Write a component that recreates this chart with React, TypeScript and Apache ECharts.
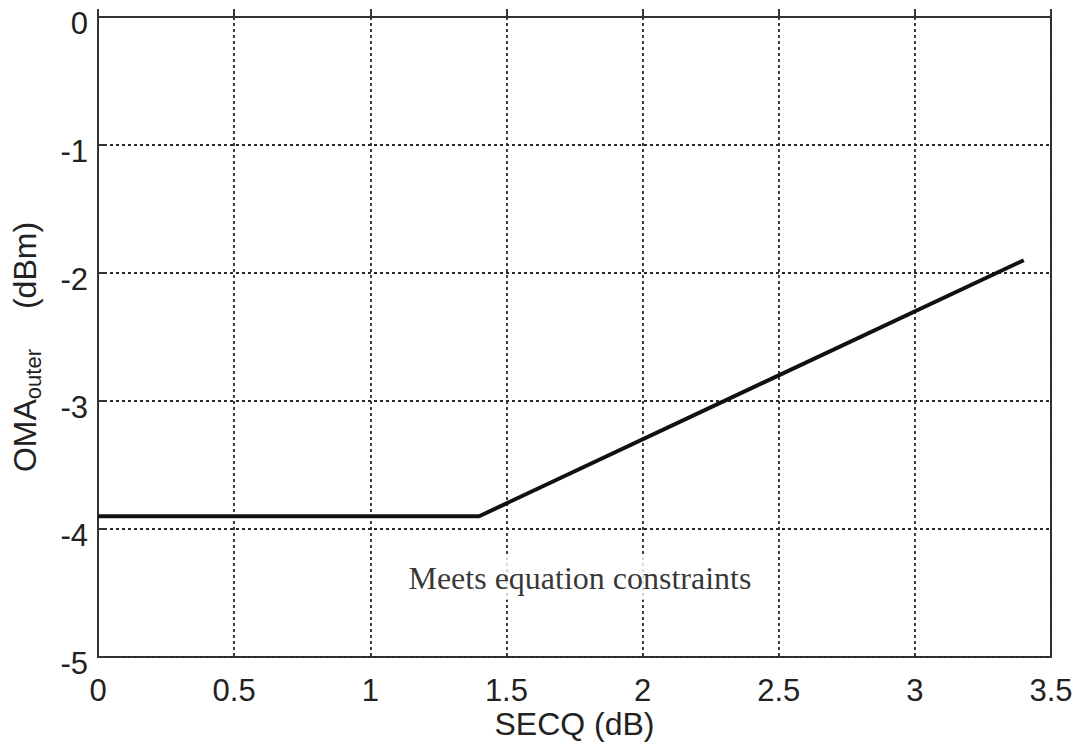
import React, { useEffect, useRef } from "react";
import * as echarts from "echarts";

const secq: number[] = [0, 1.4, 3.4];
const omaOuter: number[] = [-3.9, -3.9, -1.9];
const xTicks = { min: 0, max: 3.5, interval: 0.5 };
const yTicks = { min: -5, max: 0, interval: 1 };
const annotationText = "Meets equation constraints";
const annotationX: number[] = [1.77];
const annotationY: number[] = [-4.38];

export default function App() {
  const ref = useRef<HTMLDivElement>(null);
  useEffect(() => {
    document.body.style.margin = "0";
    const chart = echarts.init(ref.current!, null, { renderer: "svg" });
    const sans = "Liberation Sans, Arial, sans-serif";
    const serif = "Liberation Serif, Times New Roman, serif";
    const grid = { color: "#2a2a2a", type: [3, 3], width: 1.8 };
    chart.setOption({
      animation: false,
      backgroundColor: "#ffffff",
      grid: {
        left: 98,
        right: 26,
        top: 17,
        bottom: 88,
        show: true,
        borderColor: "#333",
        borderWidth: 2,
      },
      xAxis: {
        type: "value",
        min: xTicks.min,
        max: xTicks.max,
        interval: xTicks.interval,
        name: "SECQ (dB)",
        nameLocation: "middle",
        nameGap: 51,
        nameMoveOverlap: false,
        nameTextStyle: { fontFamily: sans, fontSize: 32, color: "#222", verticalAlign: "top" },
        axisLine: { show: true, lineStyle: { color: "#333", width: 2 } },
        axisTick: { show: true, inside: true, length: 8, lineStyle: { color: "#333", width: 2 } },
        axisLabel: {
          fontFamily: sans,
          fontSize: 31,
          color: "#222",
          margin: 18,
          formatter: (v: number) => String(v),
        },
        splitLine: { show: true, lineStyle: grid },
      },
      yAxis: {
        type: "value",
        min: yTicks.min,
        max: yTicks.max,
        interval: yTicks.interval,
        name: "{a|OMA}{s|outer}{g|}{e|(dBm)}",
        nameLocation: "middle",
        nameGap: 54,
        nameMoveOverlap: false,
        nameTextStyle: {
          fontFamily: sans,
          color: "#222",
          rich: {
            a: { fontFamily: sans, fontSize: 32, color: "#222" },
            e: { fontFamily: sans, fontSize: 32, color: "#222", padding: [0, 20, 0, 0] },
            s: { fontFamily: sans, fontSize: 22, color: "#222", padding: [16, 0, 0, 0] },
            g: { width: 40 },
          },
        },
        axisLine: { show: true, lineStyle: { color: "#333", width: 2 } },
        axisTick: { show: true, inside: true, length: 8, lineStyle: { color: "#333", width: 2 } },
        axisLabel: {
          color: "#222",
          margin: 10,
          formatter: (v: number) => "{v|" + v + "}",
          rich: {
            v: { fontFamily: sans, fontSize: 31, color: "#222", padding: [12, 0, 0, 0] },
          },
        },
        splitLine: { show: true, lineStyle: grid },
      },
      series: [
        {
          type: "line",
          data: secq.map((x, i) => [x, omaOuter[i]]),
          symbol: "none",
          lineStyle: { color: "#111", width: 4 },
          z: 5,
        },
        {
          type: "scatter",
          data: annotationX.map((x, i) => [x, annotationY[i]]),
          symbolSize: 0,
          silent: true,
          z: 6,
          label: {
            show: true,
            position: "inside",
            formatter: annotationText,
            fontFamily: serif,
            fontSize: 32,
            color: "#000",
            align: "center",
            verticalAlign: "middle",
            backgroundColor: "#fff",
            padding: [6, 10],
          },
        },
      ],
    });
    return () => chart.dispose();
  }, []);
  return <div ref={ref} style={{ width: 1077, height: 745 }} />;
}
